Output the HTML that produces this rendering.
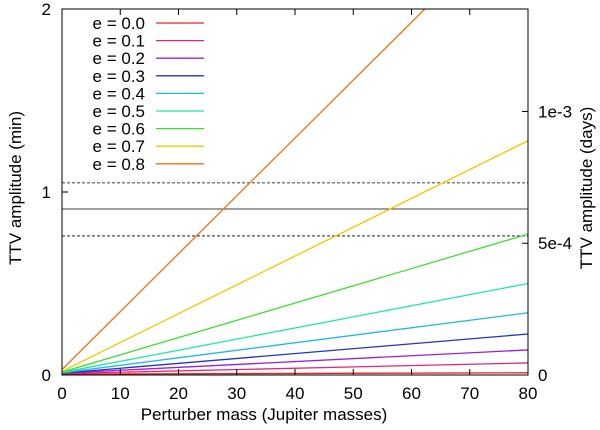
<!DOCTYPE html>
<html><head><meta charset="utf-8"><style>
body{margin:0;background:#fff}
svg{display:block;font-family:"Liberation Sans",sans-serif}
</style></head><body>
<svg id="chart" width="600" height="430" viewBox="0 0 600 430"></svg>
<script>
const eccentricities=["0.0","0.1","0.2","0.3","0.4","0.5","0.6","0.7","0.8"];
const colors=["#e8251e","#e0287a","#9b1fd6","#2233c0","#22b8e6","#22e8a0","#3ee02e","#f0c800","#f07010"];
const startValues=[0.005,0.008,0.01,0.01,0.012,0.014,0.016,0.02,0.03];
const endValues=[0.012,0.066,0.137,0.224,0.34,0.50,0.77,1.28,2.56];
const xTicks=[0,10,20,30,40,50,60,70,80];
const yTicks=[0,1,2];
const yRightTicks=[0,5e-4,1e-3];
const yRightLabels=["0","5e-4","1e-3"];
const refLines=[{v:1.05,dash:true},{v:0.907,dash:false},{v:0.76,dash:true}];
const L=62,R=528,T=9,B=375;
const FS=17;
const sx=v=>L+(v/80)*(R-L);
const sy=v=>B-(v/2)*(B-T);
const syDays=d=>sy(d*1440);
const svg=document.getElementById('chart');
const NS="http://www.w3.org/2000/svg";
function mk(tag,attrs,parent){const e=document.createElementNS(NS,tag);for(const k in attrs)e.setAttribute(k,attrs[k]);(parent||svg).appendChild(e);return e;}
const defs=mk('defs',{});const cp=mk('clipPath',{id:'pc'},defs);mk('rect',{x:L,y:T,width:R-L,height:B-T},cp);
refLines.forEach((r,i)=>{const l=mk('line',{x1:L,x2:R,y1:sy(r.v),y2:sy(r.v),stroke:'#000','stroke-width':0.8,'stroke-dasharray':r.dash?'3,2':'none'});

});
const g=mk('g',{'clip-path':'url(#pc)'});
eccentricities.forEach((e,i)=>{const l=mk('line',{x1:sx(0),y1:sy(startValues[i]),x2:sx(80),y2:sy(endValues[i]),stroke:colors[i],'stroke-width':1.3},g);

});
const frame=mk('rect',{x:L,y:T,width:R-L,height:B-T,fill:'none',stroke:'#000','stroke-width':1});


xTicks.forEach(v=>{const x=sx(v);
mk('line',{x1:x,x2:x,y1:B,y2:B-6,stroke:'#000'});mk('line',{x1:x,x2:x,y1:T,y2:T+6,stroke:'#000'});
const t=mk('text',{x:x,y:B+24,'text-anchor':'middle','font-size':FS});t.textContent=v;

});
yTicks.forEach(v=>{const y=sy(v);mk('line',{x1:L,x2:L+6,y1:y,y2:y,stroke:'#000'});
const t=mk('text',{x:L-11,y:y+6,'text-anchor':'end','font-size':FS});t.textContent=v;

});
yRightTicks.forEach((v,i)=>{const y=syDays(v);mk('line',{x1:R-6,x2:R,y1:y,y2:y,stroke:'#000'});
const t=mk('text',{x:R+10,y:y+6,'font-size':FS});t.textContent=yRightLabels[i];

});
let t=mk('text',{x:264,y:420,'text-anchor':'middle','font-size':FS});t.textContent='Perturber mass (Jupiter masses)';

t=mk('text',{x:0,y:0,'text-anchor':'middle','font-size':FS,transform:`translate(21,188) rotate(-90)`});t.textContent='TTV amplitude (min)';

t=mk('text',{x:0,y:0,'text-anchor':'middle','font-size':FS,transform:`translate(592,188) rotate(-90)`});t.textContent='TTV amplitude (days)';

eccentricities.forEach((e,i)=>{const y=23+i*17.6;
const lt=mk('text',{x:145,y:y+6,'text-anchor':'end','font-size':FS});lt.textContent='e = '+e;

const ll=mk('line',{x1:156,x2:204,y1:y,y2:y,stroke:colors[i],'stroke-width':1.3});
});
</script>
</body></html>
